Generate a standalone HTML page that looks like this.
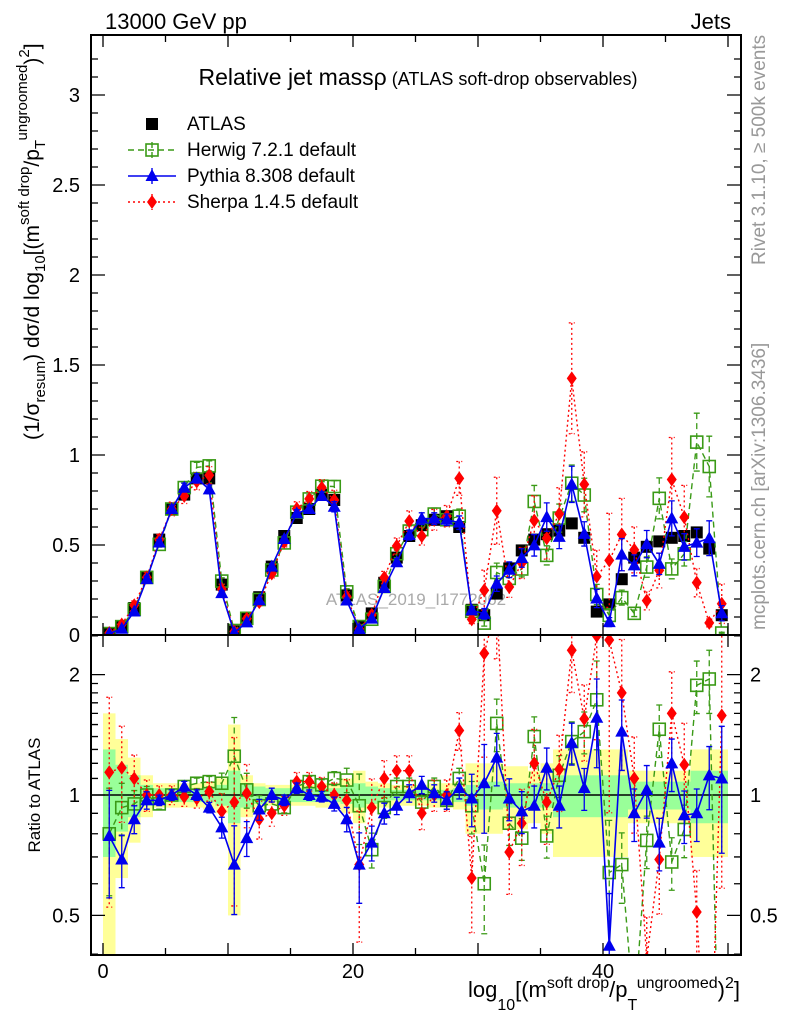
<!DOCTYPE html>
<html><head><meta charset="utf-8"><style>
html,body{margin:0;padding:0;background:#fff;overflow:hidden;width:786px;height:1024px;}
svg{display:block;font-family:"Liberation Sans",sans-serif;}
</style></head><body>
<svg id="chart" width="786" height="1024" viewBox="0 0 786 1024" xmlns="http://www.w3.org/2000/svg">
<defs>
<clipPath id="clipMain"><rect x="91" y="35" width="650" height="600"/></clipPath>
<clipPath id="clipRatio"><rect x="91" y="635" width="650" height="320"/></clipPath>
</defs>
<text x="105" y="29" font-size="22">13000 GeV pp</text>
<text x="731" y="29" font-size="22" text-anchor="end">Jets</text>
<text x="418" y="85" text-anchor="middle"><tspan font-size="23">Relative jet massρ</tspan><tspan font-size="18"> (ATLAS soft-drop observables)</tspan></text>
<text transform="translate(765,265) rotate(-90)" font-size="19" fill="#999">Rivet 3.1.10, ≥ 500k events</text>
<text transform="translate(765,630) rotate(-90)" font-size="19" fill="#999">mcplots.cern.ch [arXiv:1306.3436]</text>
<text x="416" y="605" font-size="17" fill="#aaa" text-anchor="middle">ATLAS_2019_I1772062</text>
<text transform="translate(39,440) rotate(-90)" font-size="21">(1/σ<tspan font-size="15" dy="6">resum</tspan><tspan dy="-6">) dσ/d log</tspan><tspan font-size="15" dy="6">10</tspan><tspan dy="-6">[(m</tspan><tspan font-size="15" dy="-10">soft drop</tspan><tspan dy="10">/p</tspan><tspan font-size="15" dy="6">T</tspan><tspan font-size="15" dy="-18">ungroomed</tspan><tspan dy="12">)</tspan><tspan font-size="15" dy="-10">2</tspan><tspan dy="10">]</tspan></text>
<text transform="translate(40,795) rotate(-90)" font-size="17" text-anchor="middle">Ratio to ATLAS</text>
<text x="740" y="997" font-size="22" text-anchor="end">log<tspan font-size="16" dy="13">10</tspan><tspan dy="-13">[(m</tspan><tspan font-size="16" dy="-9">soft drop</tspan><tspan dy="9">/p</tspan><tspan font-size="16" dy="13">T</tspan><tspan font-size="16" dy="-22">ungroomed</tspan><tspan dy="9">)</tspan><tspan font-size="16" dy="-9">2</tspan><tspan dy="9">]</tspan></text>
<g id="bands" clip-path="url(#clipRatio)"></g>
<g id="mainMarks" clip-path="url(#clipMain)"></g>
<g id="ratioMarks" clip-path="url(#clipRatio)"></g>
<g id="axes"></g>
<g id="legend"></g>
</svg>
<script>
const atlas=[0.01,0.05,0.15,0.32,0.53,0.70,0.78,0.87,0.87,0.28, 0.02,0.09,0.21,0.38,0.55,0.65,0.70,0.78,0.75,0.22, 0.05,0.12,0.29,0.43,0.55,0.61,0.64,0.66,0.60,0.14, 0.11,0.23,0.37,0.47,0.53,0.56,0.58,0.62,0.54,0.13, 0.17,0.31,0.43,0.49,0.52,0.54,0.55,0.57,0.48,0.11];
const herwigRatio=[0.80,0.93,0.95,1.0,0.95,1.0,1.05,1.07,1.08,1.07, 1.25,1.03,0.94,0.95,0.93,1.05,1.08,1.06,1.1,1.09, 0.94,0.73,0.93,1.05,1.05,0.96,1.05,0.97,1.1,0.94, 0.6,1.51,0.85,0.78,1.4,0.79,1.12,1.36,1.44,1.73, 0.64,0.67,0.28,0.77,1.46,0.68,0.82,1.88,1.95,0.1];
const pythiaRatio=[0.79,0.69,0.87,0.97,0.97,1.0,1.05,1.0,0.93,0.83, 0.67,0.78,0.92,1.0,0.97,1.04,1.0,0.99,0.95,0.87, 0.67,0.76,0.90,0.94,1.01,1.06,1.01,0.97,1.04,0.98, 1.07,1.24,0.98,0.91,0.94,1.17,0.94,1.35,1.04,1.56, 0.42,1.44,0.9,1.03,0.76,1.2,0.89,0.9,1.12,1.1];
const sherpaRatio=[1.14,1.17,1.1,1.0,1.0,1.0,0.99,0.98,1.02,0.91, 0.96,1.01,0.87,0.9,0.94,1.08,1.08,1.05,1.0,0.97, 0.67,0.93,1.1,1.15,1.15,0.9,1.0,1.0,1.45,0.62, 2.26,3.0,0.72,0.85,1.2,0.96,1.16,2.3,1.55,2.5, 2.44,1.8,1.1,0.39,0.69,1.6,1.19,0.51,0.14,1.58];
const mcErr=[0.3,0.15,0.08,0.05,0.03,0.03,0.03,0.03,0.03,0.06, 0.25,0.1,0.06,0.04,0.03,0.03,0.03,0.03,0.04,0.07, 0.2,0.1,0.06,0.05,0.05,0.05,0.05,0.05,0.06,0.15, 0.25,0.15,0.12,0.12,0.12,0.12,0.12,0.12,0.12,0.25, 0.35,0.2,0.15,0.15,0.15,0.15,0.15,0.15,0.18,0.35];
const statErr=[0.3,0.19,0.12,0.06,0.04,0.04,0.04,0.04,0.04,0.06, 0.15,0.07,0.05,0.04,0.04,0.04,0.04,0.04,0.04,0.05, 0.07,0.05,0.04,0.03,0.03,0.03,0.03,0.03,0.04,0.06, 0.08,0.08,0.07,0.07,0.07,0.07,0.12,0.12,0.12,0.12, 0.12,0.12,0.08,0.08,0.08,0.08,0.08,0.15,0.15,0.15];
const totErr=[0.6,0.38,0.24,0.12,0.07,0.07,0.07,0.07,0.08,0.1, 0.5,0.12,0.07,0.06,0.06,0.06,0.06,0.07,0.07,0.1, 0.15,0.08,0.07,0.06,0.06,0.06,0.07,0.07,0.08,0.2, 0.2,0.2,0.18,0.18,0.15,0.2,0.3,0.3,0.3,0.3, 0.3,0.3,0.15,0.15,0.15,0.15,0.15,0.3,0.3,0.3];
const xTicks=[0,20,40];
const mainTicks=["0","0.5","1","1.5","2","2.5","3"];
const ratioTicks=["0.5","1","2"];

const NS="http://www.w3.org/2000/svg";
const X=v=>103+12.5*v;
const YM=v=>635-180*v;
const YR=r=>795-400*Math.log10(Math.max(r,0.05));
function mk(tag,attrs,parent){const e=document.createElementNS(NS,tag);for(const k in attrs)e.setAttribute(k,attrs[k]);parent.appendChild(e);return e;}
const bands=document.getElementById('bands'),mainG=document.getElementById('mainMarks'),ratioG=document.getElementById('ratioMarks'),axes=document.getElementById('axes'),leg=document.getElementById('legend');

atlas.forEach((v,i)=>{
  let r=mk('rect',{x:X(i),width:12.5,y:YR(1+totErr[i]),height:YR(Math.max(1-totErr[i],0.05))-YR(1+totErr[i]),fill:'#ffff99'},bands);
  
  
});
atlas.forEach((v,i)=>{
  let r=mk('rect',{x:X(i),width:12.5,y:YR(1+statErr[i]),height:YR(1-statErr[i])-YR(1+statErr[i]),fill:'#99ff99'},bands);
  
  
});
let ln=mk('line',{x1:91,x2:741,y1:YR(1),y2:YR(1),stroke:'#000','stroke-width':1.5},bands);



const series=[
 {name:'herwig',ratio:herwigRatio,color:'#3a9a16',dash:'6,4',ef:1,marker:'osq'},
 {name:'sherpa',ratio:sherpaRatio,color:'#ff0000',dash:'2,3',ef:1.8,marker:'dia'},
 {name:'pythia',ratio:pythiaRatio,color:'#0000ee',dash:'',ef:1,marker:'tri'}
];
function marker(type,x,y,color,g){
  let m;
  if(type==='osq')m=mk('rect',{x:x-6,y:y-6,width:12,height:12,fill:'none',stroke:color,'stroke-width':1.6},g);
  else if(type==='sq')m=mk('rect',{x:x-6,y:y-6,width:12,height:12,fill:'#000'},g);
  else if(type==='tri')m=mk('polygon',{points:`${x},${y-7} ${x-6.5},${y+5} ${x+6.5},${y+5}`,fill:color},g);
  else m=mk('polygon',{points:`${x},${y-7} ${x-5},${y} ${x},${y+7} ${x+5},${y}`,fill:color},g);
  return m;
}
function errbar(x,y1,y2,color,dash,g){
  let e=mk('path',{d:`M${x},${y1}V${y2}M${x-3},${y1}H${x+3}M${x-3},${y2}H${x+3}`,stroke:color,'stroke-width':1.3,fill:'none'},g);
  if(dash)e.setAttribute('stroke-dasharray',dash);
  return e;
}
atlas.forEach((v,i)=>{
  let m=marker('sq',X(i+0.5),YM(v),'#000',mainG);
  
  
});
series.forEach(s=>{
  const mv=atlas.map((a,i)=>a*s.ratio[i]);
  let p=mk('polyline',{points:mv.map((v,i)=>X(i+0.5)+','+YM(v)).join(' '),fill:'none',stroke:s.color,'stroke-width':s.name==='pythia'?1.6:1.4},mainG);
  if(s.dash)p.setAttribute('stroke-dasharray',s.dash);
  
  
  mv.forEach((v,i)=>{
    const e=mcErr[i]*s.ef;
    let b=errbar(X(i+0.5),YM(v*(1+e)),YM(Math.max(v*(1-e),0)),s.color,s.dash,mainG);
    
    
    let m=marker(s.marker,X(i+0.5),YM(v),s.color,mainG);
    
    
  });
  let q=mk('polyline',{points:s.ratio.map((r,i)=>X(i+0.5)+','+YR(r)).join(' '),fill:'none',stroke:s.color,'stroke-width':s.name==='pythia'?1.6:1.4},ratioG);
  if(s.dash)q.setAttribute('stroke-dasharray',s.dash);
  
  
  s.ratio.forEach((r,i)=>{
    const e=mcErr[i]*s.ef;
    let b=errbar(X(i+0.5),YR(r*(1+e)),YR(Math.max(r*(1-e),0.05)),s.color,s.dash,ratioG);
    
    
    let m=marker(s.marker,X(i+0.5),YR(r),s.color,ratioG);
    
    
  });
});

[[35,600,'main-frame'],[635,320,'ratio-frame']].forEach(f=>{
  let r=mk('rect',{x:91,y:f[0],width:650,height:f[1],fill:'none',stroke:'#000','stroke-width':2},axes);
  
  
});
let d='';
for(let v=0;v<=50;v+=5){const x=X(v);const L=(v%10===0)?12:7;
  d+=`M${x},955v${-L}M${x},635v${-L}M${x},635v${L}M${x},35v${L}`;}
for(let v=0;v<=3.3;v+=0.1){const val=Math.round(v*10)/10;const y=YM(val);const L=(Math.round(val*10)%5===0)?14:7;d+=`M91,${y}h${L}M741,${y}h${-L}`;}
[0.4,0.5,0.6,0.7,0.8,0.9,1,1.1,1.2,1.3,1.4,1.5,1.6,1.7,1.8,1.9,2,2.5].forEach(r=>{const y=YR(r);const L=([0.5,1,2].includes(r))?14:7;d+=`M91,${y}h${L}M741,${y}h${-L}`;});
let tk=mk('path',{d:d,stroke:'#000','stroke-width':1.3,fill:'none'},axes);


xTicks.forEach(v=>{
  let t=mk('text',{x:X(v),y:978,'font-size':20,'text-anchor':'middle'},axes);t.textContent=v;
  
  
});
mainTicks.forEach(s=>{
  let t=mk('text',{x:80,y:YM(parseFloat(s))+7,'font-size':20,'text-anchor':'end'},axes);t.textContent=s;
  
  
});
ratioTicks.forEach(s=>{
  let t=mk('text',{x:80,y:YR(parseFloat(s))+7,'font-size':20,'text-anchor':'end'},axes);t.textContent=s;
  
  
  let t2=mk('text',{x:750,y:YR(parseFloat(s))+7,'font-size':20,'text-anchor':'start'},axes);t2.textContent=s;
  
  
});
const legItems=[['ATLAS','#000','','sq',124],['Herwig 7.2.1 default','#3a9a16','6,4','osq',150],['Pythia 8.308 default','#0000ee','','tri',176],['Sherpa 1.4.5 default','#ff0000','2,3','dia',202]];
legItems.forEach(it=>{
  const g=mk('g',{},leg);
  
  
  if(it[3]!=='sq'){let l=mk('path',{d:`M128,${it[4]}H176M152,${it[4]-8}V${it[4]+8}`,stroke:it[1],'stroke-width':1.4,fill:'none'},g);if(it[2])l.setAttribute('stroke-dasharray',it[2]);}
  marker(it[3],152,it[4],it[1],g);
  let t=mk('text',{x:187,y:it[4]+6,'font-size':19},g);t.textContent=it[0];
});
</script>
</body></html>
